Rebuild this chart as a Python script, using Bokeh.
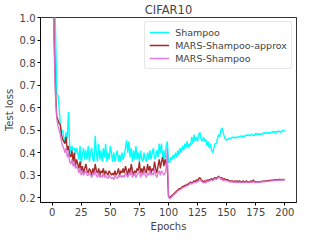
from bokeh.plotting import figure
from bokeh.models import Range1d, Legend, LegendItem, FixedTicker
from bokeh.embed import file_html
from bokeh.resources import INLINE

epochs = list(range(1, 201))

shampoo = [
    2.20, 1.15, 0.92, 0.66, 0.655, 0.60, 0.53, 0.49, 0.50, 0.47,
    0.45, 0.49, 0.46, 0.58, 0.44, 0.40, 0.43, 0.41, 0.42, 0.39,
    0.42, 0.40, 0.37, 0.43, 0.35, 0.39, 0.42, 0.37, 0.41, 0.37,
    0.43, 0.36, 0.40, 0.42, 0.37, 0.36, 0.475, 0.40, 0.36, 0.44,
    0.37, 0.41, 0.36, 0.42, 0.38, 0.44, 0.36, 0.40, 0.37, 0.43,
    0.40, 0.36, 0.40, 0.36, 0.39, 0.41, 0.36, 0.39, 0.36, 0.40,
    0.37, 0.39, 0.42, 0.455, 0.40, 0.45, 0.38, 0.42, 0.36, 0.41,
    0.37, 0.43, 0.37, 0.40, 0.36, 0.41, 0.37, 0.36, 0.40, 0.37,
    0.36, 0.40, 0.37, 0.41, 0.37, 0.40, 0.42, 0.37, 0.38, 0.41,
    0.38, 0.44, 0.40, 0.44, 0.37, 0.41, 0.37, 0.43, 0.45, 0.36,
    0.355, 0.38, 0.37, 0.39, 0.375, 0.40, 0.38, 0.41, 0.39, 0.42,
    0.40, 0.43, 0.41, 0.44, 0.42, 0.45, 0.42, 0.44, 0.43, 0.47,
    0.44, 0.48, 0.45, 0.47, 0.45, 0.48, 0.49, 0.46, 0.45, 0.47,
    0.45, 0.46, 0.43, 0.45, 0.42, 0.44, 0.41, 0.40, 0.42, 0.44,
    0.44, 0.46, 0.48, 0.47, 0.50, 0.51, 0.49, 0.47, 0.46, 0.455,
    0.46, 0.465, 0.46, 0.465, 0.47, 0.465, 0.47, 0.465, 0.47, 0.47,
    0.47, 0.475, 0.47, 0.475, 0.47, 0.475, 0.48, 0.475, 0.48, 0.475,
    0.48, 0.48, 0.475, 0.48, 0.485, 0.48, 0.485, 0.48, 0.485, 0.48,
    0.485, 0.49, 0.485, 0.49, 0.485, 0.49, 0.485, 0.49, 0.49, 0.495,
    0.49, 0.495, 0.49, 0.495, 0.495, 0.49, 0.495, 0.50, 0.495, 0.50,
]

mars_approx = [
    1.10, 0.86, 0.66, 0.56, 0.545, 0.53, 0.525, 0.48, 0.46, 0.45,
    0.44, 0.47, 0.41, 0.43, 0.39, 0.38, 0.41, 0.36, 0.40, 0.34,
    0.37, 0.35, 0.33, 0.36, 0.32, 0.34, 0.31, 0.33, 0.35, 0.32,
    0.31, 0.33, 0.32, 0.30, 0.33, 0.31, 0.35, 0.32, 0.31, 0.33,
    0.30, 0.32, 0.31, 0.33, 0.30, 0.32, 0.31, 0.30, 0.32, 0.31,
    0.30, 0.31, 0.30, 0.32, 0.30, 0.31, 0.33, 0.30, 0.32, 0.31,
    0.33, 0.31, 0.34, 0.32, 0.30, 0.33, 0.31, 0.35, 0.32, 0.30,
    0.32, 0.31, 0.33, 0.32, 0.36, 0.31, 0.33, 0.31, 0.34, 0.32,
    0.31, 0.35, 0.32, 0.34, 0.31, 0.33, 0.32, 0.36, 0.33, 0.31,
    0.34, 0.37, 0.33, 0.36, 0.38, 0.34, 0.37, 0.35, 0.33, 0.21,
    0.20, 0.205, 0.21, 0.215, 0.22, 0.225, 0.23, 0.235, 0.24, 0.24,
    0.245, 0.25, 0.25, 0.255, 0.255, 0.26, 0.26, 0.265, 0.27, 0.265,
    0.27, 0.275, 0.27, 0.28, 0.275, 0.285, 0.29, 0.28, 0.275, 0.27,
    0.275, 0.27, 0.28, 0.275, 0.28, 0.28, 0.285, 0.28, 0.285, 0.29,
    0.285, 0.29, 0.295, 0.29, 0.285, 0.29, 0.28, 0.285, 0.28, 0.28,
    0.28, 0.275, 0.275, 0.275, 0.275, 0.27, 0.275, 0.27, 0.275, 0.27,
    0.275, 0.27, 0.27, 0.275, 0.27, 0.27, 0.275, 0.27, 0.27, 0.27,
    0.275, 0.27, 0.28, 0.27, 0.27, 0.27, 0.272, 0.27, 0.273, 0.272,
    0.274, 0.275, 0.273, 0.276, 0.275, 0.277, 0.276, 0.278, 0.277, 0.279,
    0.278, 0.28, 0.279, 0.28, 0.282, 0.28, 0.281, 0.28, 0.282, 0.28,
]

mars_shampoo = [
    1.05, 0.82, 0.64, 0.55, 0.52, 0.50, 0.48, 0.45, 0.43, 0.42,
    0.40, 0.42, 0.38, 0.40, 0.36, 0.35, 0.37, 0.34, 0.36, 0.33,
    0.34, 0.33, 0.31, 0.33, 0.30, 0.32, 0.30, 0.31, 0.32, 0.30,
    0.30, 0.31, 0.30, 0.29, 0.31, 0.30, 0.32, 0.30, 0.29, 0.31,
    0.29, 0.30, 0.29, 0.31, 0.29, 0.30, 0.29, 0.285, 0.30, 0.29,
    0.285, 0.29, 0.28, 0.30, 0.29, 0.285, 0.30, 0.29, 0.30, 0.29,
    0.30, 0.29, 0.31, 0.30, 0.29, 0.31, 0.30, 0.32, 0.29, 0.30,
    0.31, 0.29, 0.30, 0.31, 0.32, 0.29, 0.31, 0.30, 0.32, 0.30,
    0.29, 0.31, 0.30, 0.32, 0.30, 0.31, 0.30, 0.33, 0.30, 0.29,
    0.31, 0.32, 0.30, 0.32, 0.31, 0.30, 0.31, 0.33, 0.42, 0.205,
    0.195, 0.20, 0.205, 0.21, 0.215, 0.22, 0.225, 0.23, 0.235, 0.235,
    0.24, 0.245, 0.245, 0.25, 0.25, 0.255, 0.255, 0.26, 0.265, 0.26,
    0.265, 0.27, 0.265, 0.27, 0.27, 0.275, 0.28, 0.275, 0.27, 0.265,
    0.27, 0.265, 0.275, 0.27, 0.275, 0.275, 0.28, 0.275, 0.28, 0.285,
    0.28, 0.285, 0.29, 0.295, 0.28, 0.285, 0.275, 0.28, 0.275, 0.275,
    0.275, 0.27, 0.272, 0.27, 0.27, 0.268, 0.27, 0.268, 0.27, 0.267,
    0.27, 0.267, 0.268, 0.27, 0.267, 0.268, 0.27, 0.268, 0.267, 0.268,
    0.27, 0.268, 0.272, 0.268, 0.267, 0.268, 0.27, 0.268, 0.27, 0.27,
    0.271, 0.272, 0.271, 0.273, 0.273, 0.274, 0.274, 0.275, 0.275, 0.276,
    0.276, 0.277, 0.277, 0.278, 0.278, 0.279, 0.279, 0.279, 0.28, 0.28,
]

x_ticks = [0, 25, 50, 75, 100, 125, 150, 175, 200]
y_ticks = [0.2, 0.3, 0.4, 0.5, 0.6, 0.7, 0.8, 0.9, 1.0]

FONT = "DejaVu Sans"

p = figure(width=298, height=234, output_backend="svg", toolbar_location=None,
           x_range=Range1d(-10, 210), y_range=Range1d(0.179, 1.0),
           title="CIFAR10")
p.min_border_left = 4
p.min_border_right = 2
p.min_border_top = 2
p.min_border_bottom = 2

p.title.align = "center"
p.title.text_font = FONT
p.title.text_font_size = "11.5px"
p.title.text_font_style = "normal"
p.title.offset = 0
p.title.standoff = 1

p.grid.visible = False
p.outline_line_color = "black"
p.outline_line_width = 0.8
p.background_fill_color = "white"

for ax in (p.xaxis[0], p.yaxis[0]):
    ax.major_label_text_font = FONT
    ax.major_label_text_font_size = "10px"
    ax.axis_label_text_font = FONT
    ax.axis_label_text_font_size = "10px"
    ax.axis_label_text_font_style = "normal"
    ax.minor_tick_line_color = None
    ax.major_tick_in = 0
    ax.major_tick_out = 3
    ax.axis_line_color = "black"
    ax.axis_line_width = 0.8
    ax.major_label_standoff = 2
    ax.axis_label_standoff = 2

p.xaxis.ticker = FixedTicker(ticks=x_ticks)
p.yaxis.ticker = FixedTicker(ticks=y_ticks)
p.yaxis.major_label_overrides = {v: f"{v:.1f}" for v in y_ticks}
p.xaxis.axis_label = "Epochs"
p.yaxis.axis_label = "Test loss"

r1 = p.line(epochs, shampoo, line_color="cyan", line_width=1.4)
r2 = p.line(epochs, mars_approx, line_color="#a52a2a", line_width=1.4)
r3 = p.line(epochs, mars_shampoo, line_color="orchid", line_width=1.4, line_alpha=0.9)

legend = Legend(items=[
    LegendItem(label="Shampoo", renderers=[r1]),
    LegendItem(label="MARS-Shampoo-approx", renderers=[r2]),
    LegendItem(label="MARS-Shampoo", renderers=[r3]),
], location="top_right")
legend.label_text_font = FONT
legend.label_text_font_size = "9.5px"
legend.glyph_width = 20
legend.glyph_height = 12
legend.label_height = 12
legend.spacing = 1
legend.padding = 4
legend.margin = 4
legend.label_standoff = 6
legend.border_line_color = "#cccccc"
legend.border_line_width = 0.8
legend.border_radius = 3
legend.background_fill_alpha = 0.8
p.add_layout(legend)

open("out.html", "w").write(file_html(p, INLINE))
